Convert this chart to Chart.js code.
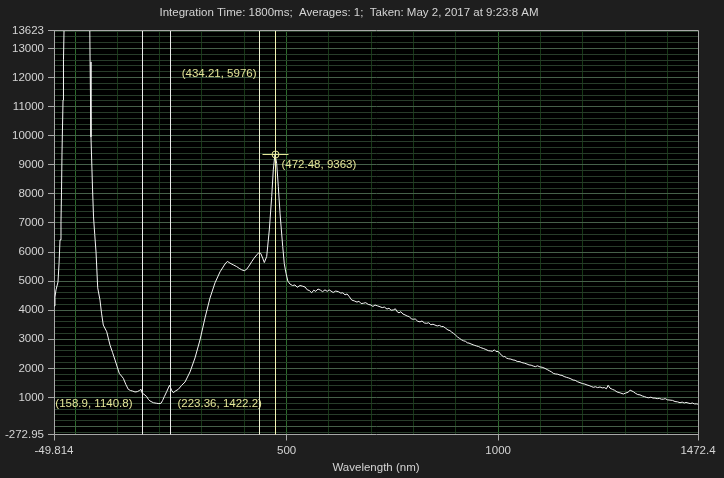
<!DOCTYPE html>
<html><head><meta charset="utf-8">
<script src="https://cdn.jsdelivr.net/npm/chart.js@4.4.0/dist/chart.umd.min.js"></script>
<style>html,body{margin:0;padding:0;background:#1e1e1e;overflow:hidden}canvas{display:block}</style>
</head><body>
<canvas id="c" width="724" height="478"></canvas>
<script>
const TITLE = "Integration Time: 1800ms;  Averages: 1;  Taken: May 2, 2017 at 9:23:8 AM";
const X_TITLE = "Wavelength (nm)";
const X_MIN = -49.814, X_MAX = 1472.4;
const Y_MIN = -272.95, Y_MAX = 13623;
const xTickLabels = [-49.814, 500, 1000, 1472.4];
const yTickLabels = [-272.95, 1000, 2000, 3000, 4000, 5000, 6000, 7000, 8000, 9000, 10000, 11000, 12000, 13000, 13623];

const wavelength = [
-49.8,-47.5,-45.1,-40.4,-37.9,-35.6,-33.3,-32.1,-30.9,-28.5,-27.4,-26.1,-21.4,-12.0,2.2,16.4,28.2,34.1,34.8,35.5,
37.6,41.2,43.6,46.5,49.5,53.5,58.9,62.5,66.7,74.8,82.6,88.5,94.4,104.5,114.0,120.0,125.8,131.0,136.2,141.6,
147.1,152.0,156.0,158.9,163.0,169.3,173.0,177.1,185.0,193.0,198.0,203.1,207.0,210.9,216.5,223.36,228.0,232.2,238.0,244.0,
252.0,259.8,271.7,283.5,295.3,307.1,318.9,330.7,342.6,354.4,360.0,366.2,374.0,382.0,388.0,393.9,400.0,405.7,411.0,417.5,
423.0,429.3,434.21,439.0,443.5,447.3,452.9,459.1,464.8,468.5,472.48,476.5,480.4,484.4,490.8,494.5,498.6,503.0,508.0,514.0,
519.8,525.0,531.7,537.0,543.5,549.0,553.5,559.3,564.0,569.0,574.2,580.0,585.0,590.7,596.0,600.5,604.9,610.0,616.0,622.2,
628.0,633.0,638.0,643.0,648.0,653.9,660.0,666.4,671.0,676.0,681.3,687.0,693.0,699.5,704.0,709.0,715.0,720.8,726.0,731.0,
737.3,742.0,747.0,752.2,757.0,762.0,765.7,770.0,775.0,779.9,785.0,790.0,795.0,799.5,804.0,810.0,815.3,820.0,826.0,831.1,
836.0,841.0,846.0,850.7,856.0,861.0,866.0,870.4,876.0,881.5,886.0,890.0,894.0,899.0,904.0,909.0,913.8,918.0,923.0,927.0,
931.1,936.0,941.0,945.0,949.3,954.0,958.0,961.8,966.0,971.0,976.7,982.0,987.0,991.0,995.0,1000.4,1004.0,1008.0,1013.0,1016.0,
1020.2,1025.0,1030.0,1035.1,1040.0,1045.0,1051.7,1056.0,1062.0,1068.2,1073.0,1078.0,1083.1,1088.0,1093.0,1099.0,1104.0,1110.8,1116.0,1121.0,
1126.0,1130.4,1135.0,1141.0,1146.3,1151.0,1156.0,1162.1,1167.0,1172.0,1177.0,1182.0,1188.0,1193.5,1199.0,1205.0,1210.1,1215.0,1220.0,1225.0,
1230.0,1235.0,1240.8,1246.0,1251.0,1256.0,1260.0,1264.4,1270.0,1275.0,1281.0,1286.0,1290.0,1295.9,1301.0,1307.0,1312.0,1319.5,1324.0,1330.0,
1335.3,1341.0,1346.0,1351.2,1356.0,1361.0,1366.0,1370.8,1376.0,1381.0,1386.0,1390.4,1395.0,1400.0,1406.2,1412.0,1418.0,1424.0,1429.9,1435.0,
1440.0,1444.0,1448.8,1454.0,1459.0,1464.0,1469.4,1472.4
];
const counts = [
4150,4450,4700,4970,5600,6420,7040,8035,9410,11230,12610,13640,16500,19500,21000,19500,16200,14000,13600,12540,
9960,8200,7210,6600,6000,4770,4350,3900,3490,3260,2800,2550,2290,1830,1660,1450,1280,1240,1220,1190,
1200,1240,1280,1141,1110,1030,940,880,820,800,790,800,900,1030,1200,1422,1250,1165,1230,1280,
1420,1530,1880,2360,2980,3735,4420,4940,5320,5590,5680,5620,5560,5500,5440,5390,5360,5410,5520,5670,
5790,5900,5976,5950,5790,5640,5845,6760,7910,8825,9363,9056,8250,7340,6190,5600,5270,5000,4900,4850,
4870,4790,4850,4830,4800,4700,4680,4600,4690,4650,4730,4690,4640,4700,4650,4700,4660,4610,4660,4640,
4590,4600,4530,4560,4470,4350,4320,4280,4310,4230,4240,4260,4200,4180,4130,4180,4150,4120,4090,4110,
4040,4070,4000,4010,4050,3940,3910,3950,3870,3840,3800,3780,3700,3690,3700,3620,3600,3630,3560,3550,
3570,3500,3520,3490,3460,3480,3440,3440,3380,3320,3300,3250,3210,3150,3080,3030,2980,2950,2930,2880,
2870,2840,2810,2790,2770,2750,2720,2700,2680,2650,2610,2600,2590,2640,2580,2580,2520,2450,2400,2410,
2350,2330,2320,2290,2280,2240,2230,2200,2180,2150,2120,2110,2080,2060,2090,2050,2040,2000,1960,1920,
1880,1830,1810,1800,1770,1760,1720,1690,1670,1640,1600,1590,1540,1510,1480,1460,1430,1410,1380,1350,
1370,1340,1360,1330,1340,1300,1420,1320,1280,1250,1190,1170,1150,1120,1150,1180,1250,1200,1150,1100,
1090,1050,1030,1000,990,1010,980,980,960,970,940,940,960,920,910,900,860,850,820,840,
810,830,810,790,810,780,780,770
];

const markerWavelength = [158.9, 223.36, 434.21, 472.48];
const markerCounts = [1140.8, 1422.2, 5976, 9363];
const markerText = ["(158.9, 1140.8)", "(223.36, 1422.2)", "(434.21, 5976)", "(472.48, 9363)"];

const FONT = "'Liberation Sans', Arial, sans-serif";
const FONT_SIZE = 11.5;
const TEXT_COLOR = '#d4d4d4';
const LABEL_COLOR = '#e4e497';
const BORDER = '#a8a8a8';

const markerStyle = [
  {align: 'right', dx: -10, anchor: 'bottom', dy: -31, line: '#ececec'},
  {align: 'left', dx: 7, anchor: 'bottom', dy: -31, line: '#ececec'},
  {align: 'right', dx: -3, anchor: 'top', dy: 43.5, line: '#f2f2d4'},
  {align: 'left', dx: 6, anchor: 'point', dy: 11, line: '#f4f4b4', cross: true}
];

const overlay = {
  id: 'overlay',
  beforeDraw(chart) {
    const {ctx, chartArea: a} = chart;
    ctx.save();
    ctx.fillStyle = '#1e1e1e';
    ctx.fillRect(0, 0, chart.width, chart.height);
    ctx.fillStyle = '#000000';
    ctx.fillRect(a.left, a.top, a.right - a.left, a.bottom - a.top);
    ctx.restore();
  },
  afterDatasetsDraw(chart) {
    const {ctx, chartArea: a, scales: {x, y}} = chart;
    ctx.save();
    ctx.lineWidth = 1;
    markerWavelength.forEach((w, i) => {
      const st = markerStyle[i];
      const px = Math.round(x.getPixelForValue(w)) + 0.5;
      const py = y.getPixelForValue(markerCounts[i]);
      ctx.strokeStyle = st.line;
      ctx.beginPath();
      ctx.moveTo(px, a.top);
      ctx.lineTo(px, a.bottom);
      ctx.stroke();
      if (st.cross) {
        const cy = Math.round(py) + 0.5;
        ctx.strokeStyle = LABEL_COLOR;
        ctx.beginPath();
        ctx.moveTo(px - 13, cy);
        ctx.lineTo(px + 13, cy);
        ctx.stroke();
        ctx.beginPath();
        ctx.arc(px, cy, 3.5, 0, Math.PI * 2);
        ctx.stroke();
      }
      let ly;
      if (st.anchor === 'bottom') ly = a.bottom + st.dy;
      else if (st.anchor === 'top') ly = a.top + st.dy;
      else ly = py + st.dy;
      ctx.fillStyle = LABEL_COLOR;
      ctx.font = FONT_SIZE + "px " + FONT;
      ctx.textAlign = st.align;
      ctx.textBaseline = 'middle';
      ctx.fillText(markerText[i], px + st.dx, ly);
    });
    ctx.restore();
  },
  afterDraw(chart) {
    const {ctx, chartArea: a} = chart;
    ctx.save();
    ctx.strokeStyle = BORDER;
    ctx.lineWidth = 1;
    ctx.beginPath();
    ctx.moveTo(Math.round(a.left) + 0.5, Math.round(a.top) + 0.5);
    ctx.lineTo(Math.round(a.right) + 0.5, Math.round(a.top) + 0.5);
    ctx.lineTo(Math.round(a.right) + 0.5, Math.round(a.bottom) + 0.5);
    ctx.stroke();
    ctx.restore();
  }
};

new Chart(document.getElementById('c'), {
  type: 'line',
  data: {
    datasets: [{
      data: wavelength.map((w, i) => ({x: w, y: counts[i]})),
      borderColor: '#f6f6f6',
      borderWidth: 1,
      pointRadius: 0,
      tension: 0,
      fill: false
    }]
  },
  options: {
    responsive: false,
    animation: false,
    devicePixelRatio: 1,
    layout: {padding: {left: 0, right: 26, top: 0, bottom: 0}},
    plugins: {
      legend: {display: false},
      tooltip: {enabled: false},
      title: {
        display: true,
        text: TITLE,
        color: TEXT_COLOR,
        font: {family: FONT, size: FONT_SIZE, weight: 'normal'},
        padding: {top: 5.5, bottom: 11.1}
      }
    },
    scales: {
      x: {
        type: 'linear',
        min: X_MIN,
        max: X_MAX,
        afterBuildTicks(scale) {
          const t = [{value: X_MIN}];
          for (let v = 0; v <= 1400; v += 100) t.push({value: v});
          t.push({value: X_MAX});
          scale.ticks = t;
        },
        afterFit(scale) { scale.height = 43.5; },
        ticks: {
          autoSkip: false,
          maxRotation: 0,
          color: TEXT_COLOR,
          font: {family: FONT, size: FONT_SIZE},
          padding: 3,
          callback: (v) => xTickLabels.includes(v) ? String(v) : ''
        },
        grid: {
          tickLength: 6,
          color: (c) => {
            const v = c.tick.value;
            if (v === X_MIN || v === X_MAX) return 'rgba(0,0,0,0)';
            return v % 500 === 0 ? '#2c6a2c' : '#163816';
          },
          tickColor: (c) => xTickLabels.includes(c.tick.value) ? BORDER : 'rgba(0,0,0,0)'
        },
        border: {color: BORDER, width: 1},
        title: {
          display: true,
          text: X_TITLE,
          color: TEXT_COLOR,
          font: {family: FONT, size: FONT_SIZE},
          padding: {top: 0, bottom: 3}
        }
      },
      y: {
        type: 'linear',
        min: Y_MIN,
        max: Y_MAX,
        afterBuildTicks(scale) {
          const t = [{value: Y_MIN}];
          for (let v = -200; v <= 13600; v += 200) t.push({value: v});
          t.push({value: Y_MAX});
          scale.ticks = t;
        },
        afterFit(scale) { scale.width = 54; },
        ticks: {
          autoSkip: false,
          color: TEXT_COLOR,
          font: {family: FONT, size: FONT_SIZE},
          padding: 4,
          callback: (v) => yTickLabels.includes(v) ? String(v) : ''
        },
        grid: {
          tickLength: 6,
          color: (c) => {
            const v = c.tick.value;
            if (v === Y_MIN || v === Y_MAX) return 'rgba(0,0,0,0)';
            return v % 1000 === 0 ? '#46604a' : '#283c2a';
          },
          tickColor: (c) => yTickLabels.includes(c.tick.value) ? BORDER : 'rgba(0,0,0,0)'
        },
        border: {color: BORDER, width: 1}
      }
    }
  },
  plugins: [overlay]
});
</script>
</body></html>
